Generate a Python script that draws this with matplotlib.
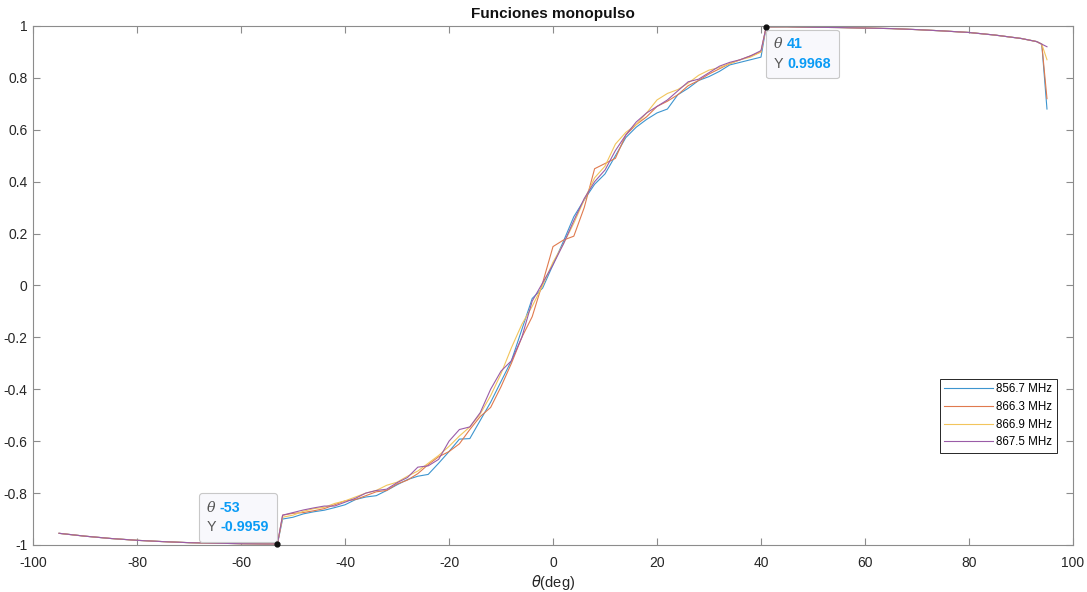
import matplotlib
matplotlib.use("Agg")
import matplotlib.pyplot as plt
from matplotlib.offsetbox import TextArea, HPacker, VPacker, AnnotationBbox

plt.rcParams['font.family'] = ['Liberation Sans', 'DejaVu Sans']

# ---------------- data ----------------
theta_left = [-95, -90, -85, -80, -75, -70, -65, -60, -55, -53]
theta_mid = [-52, -50, -48, -46, -44, -42, -40, -38, -36, -34, -32, -30, -28, -26,
             -24, -22, -20, -18, -16, -14, -12, -10, -8, -6, -4, -2, 0, 2, 4, 6,
             8, 10, 12, 14, 16, 18, 20, 22, 24, 26, 28, 30, 32, 34, 36, 38, 40]
theta_right = [41, 45, 50, 55, 60, 65, 70, 75, 80, 85, 90, 93, 94, 95]

left_vals = [-0.955, -0.966, -0.975, -0.982, -0.987, -0.991, -0.993, -0.995, -0.996, -0.9959]
right_vals = [0.9968, 0.997, 0.995, 0.994, 0.992, 0.990, 0.986, 0.981, 0.975, 0.965,
              0.952, 0.940, 0.930]

mid_856_7 = [-0.900, -0.893, -0.880, -0.872, -0.866, -0.856, -0.845, -0.825, -0.815, -0.810,
             -0.790, -0.768, -0.748, -0.735, -0.728, -0.685, -0.640, -0.592, -0.590, -0.520,
             -0.450, -0.370, -0.290, -0.170, -0.050, -0.010, 0.080, 0.170, 0.265, 0.330,
             0.390, 0.430, 0.500, 0.570, 0.610, 0.640, 0.665, 0.680, 0.735, 0.760,
             0.790, 0.805, 0.825, 0.850, 0.860, 0.870, 0.880]
mid_866_3 = [-0.885, -0.878, -0.875, -0.868, -0.860, -0.845, -0.830, -0.825, -0.810, -0.795,
             -0.790, -0.765, -0.750, -0.725, -0.690, -0.660, -0.640, -0.610, -0.555, -0.505,
             -0.470, -0.390, -0.300, -0.200, -0.120, 0.010, 0.150, 0.175, 0.190, 0.300,
             0.450, 0.470, 0.490, 0.580, 0.620, 0.650, 0.690, 0.710, 0.735, 0.770,
             0.790, 0.815, 0.835, 0.855, 0.870, 0.885, 0.900]
mid_866_9 = [-0.893, -0.885, -0.870, -0.860, -0.855, -0.840, -0.830, -0.815, -0.800, -0.790,
             -0.770, -0.758, -0.735, -0.715, -0.685, -0.655, -0.620, -0.580, -0.545, -0.495,
             -0.425, -0.340, -0.240, -0.150, -0.080, 0.000, 0.090, 0.160, 0.240, 0.330,
             0.415, 0.460, 0.545, 0.590, 0.620, 0.665, 0.715, 0.740, 0.755, 0.780,
             0.810, 0.830, 0.840, 0.855, 0.870, 0.880, 0.900]
mid_867_5 = [-0.885, -0.875, -0.865, -0.857, -0.850, -0.850, -0.835, -0.820, -0.800, -0.790,
             -0.785, -0.760, -0.740, -0.700, -0.695, -0.670, -0.600, -0.555, -0.545, -0.490,
             -0.400, -0.330, -0.290, -0.200, -0.060, 0.010, 0.080, 0.160, 0.250, 0.335,
             0.400, 0.445, 0.520, 0.580, 0.630, 0.665, 0.690, 0.715, 0.750, 0.785,
             0.795, 0.820, 0.845, 0.860, 0.870, 0.885, 0.905]

end_vals = [0.68, 0.72, 0.87, 0.92]  # value at theta = 95 for each series

labels = ['856.7 MHz', '866.3 MHz', '866.9 MHz', '867.5 MHz']
colors = ['#3d95cf', '#e07a4e', '#f2c55c', '#9a5ca7']
mids = [mid_856_7, mid_866_3, mid_866_9, mid_867_5]

tip1 = (-53, -0.9959)
tip2 = (41, 0.9968)

# ---------------- figure ----------------
fig = plt.figure(figsize=(10.87, 5.92), dpi=100)
ax = fig.add_axes([0.0304, 0.0794, 0.9567, 0.8767])

theta = theta_left + theta_mid + theta_right
for mid, end, lab, col in zip(mids, end_vals, labels, colors):
    y = left_vals + mid + right_vals + [end]
    ax.plot(theta, y, color=col, lw=0.8, label=lab)

ax.set_xlim(-100, 100)
ax.set_ylim(-1, 1)
ax.set_xticks(range(-100, 101, 20))
yt = [-1, -0.8, -0.6, -0.4, -0.2, 0, 0.2, 0.4, 0.6, 0.8, 1]
ax.set_yticks(yt)
ax.set_yticklabels(['-1', '-0.8', '-0.6', '-0.4', '-0.2', '0', '0.2', '0.4', '0.6', '0.8', '1'])
ax.set_xticklabels([str(v) for v in range(-100, 101, 20)])
ax.tick_params(direction='in', length=5, width=0.8, color='#8c8c8c',
               labelcolor='#262626', labelsize=10, top=True, right=True)
ax.tick_params(axis='x', pad=8)
ax.tick_params(axis='y', pad=4)
for s in ax.spines.values():
    s.set_color('#8c8c8c')
    s.set_linewidth(0.8)

ax.set_title('Funciones monopulso', fontsize=11, fontweight='bold', color='#111111', pad=6)
ax.set_xlabel(r'$\theta$(deg)', fontsize=10.5, color='#262626', labelpad=2)

leg = ax.legend(loc='center right', bbox_to_anchor=(0.99, 0.249), fontsize=8.3,
                fancybox=False, edgecolor='#262626', framealpha=1, handlelength=4.2,
                borderpad=0.4, labelspacing=0.5, handletextpad=0.3)
leg.get_frame().set_linewidth(0.7)

# data tips
blue = '#0a9bf5'
gray = '#555555'


def datatip(xy, xval, yval, align, offset):
    fs = 10.3
    row1 = HPacker(children=[TextArea('θ', textprops=dict(color=gray, fontsize=fs, style='italic', family='DejaVu Serif')),
                             TextArea(xval, textprops=dict(color=blue, fontsize=fs, fontweight='bold'))],
                   pad=0, sep=3, align='baseline')
    row2 = HPacker(children=[TextArea('Y', textprops=dict(color=gray, fontsize=fs)),
                             TextArea(yval, textprops=dict(color=blue, fontsize=fs, fontweight='bold'))],
                   pad=0, sep=3, align='baseline')
    box = VPacker(children=[row1, row2], pad=0, sep=4, align='left')
    ab = AnnotationBbox(box, xy, xybox=offset, xycoords='data', boxcoords='offset points',
                        box_alignment=align, frameon=True, pad=0.55,
                        bboxprops=dict(boxstyle='round,pad=0.55,rounding_size=0.2',
                                       fc='#f8f8fc', ec='#c8c8c8', lw=0.8))
    ax.add_artist(ab)
    ax.plot([xy[0]], [xy[1]], 'o', color='#111111', ms=3.5, zorder=5, clip_on=False)


datatip(tip1, str(tip1[0]), f'{tip1[1]:.4f}', (1, 0), (-6, 7))
datatip(tip2, str(tip2[0]), f'{tip2[1]:.4f}', (0, 1), (5.5, -7.5))

fig.savefig('out.png', dpi=100, facecolor='white')
